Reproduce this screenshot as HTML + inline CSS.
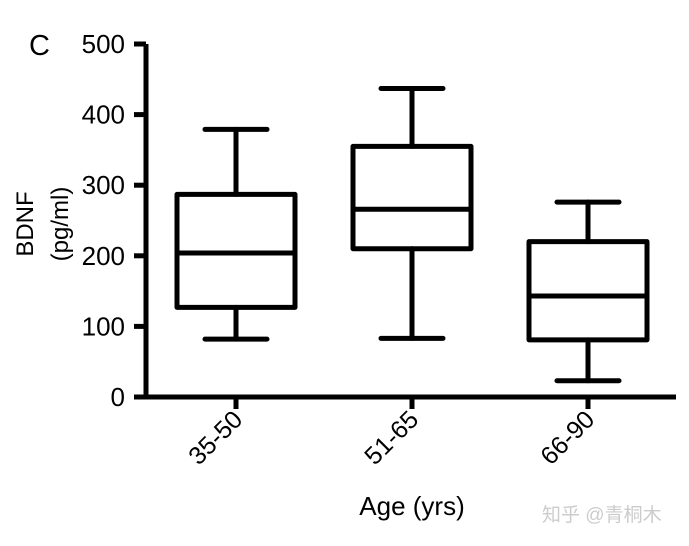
<!DOCTYPE html>
<html><head><meta charset="utf-8"><style>
body{margin:0;background:#fff;}
svg text{font-family:"Liberation Sans","Noto Sans CJK SC",sans-serif;fill:#000;}
</style></head><body>
<svg id="chart" width="689" height="541" viewBox="0 0 689 541" xmlns="http://www.w3.org/2000/svg">
<text x="29" y="55" font-size="29">C</text>
<g id="axes"></g>
<g id="boxes"></g>
<text transform="translate(33,224) rotate(-90)" text-anchor="middle" font-size="24">BDNF</text>
<text transform="translate(68,224) rotate(-90)" text-anchor="middle" font-size="24">(pg/ml)</text>
<text x="412" y="515" text-anchor="middle" font-size="26">Age (yrs)</text>
<text x="542" y="521" font-size="19" style="fill:#ccc">知乎 @青桐木</text>
</svg>
<script>
const categories=["35-50","51-65","66-90"];
const whiskerHigh=[379,437,276];
const q3Values=[287,355,220];
const medians=[204,266,143];
const q1Values=[127,210,81];
const whiskerLow=[82,83,23];
const yTicks=[0,100,200,300,400,500];
const NS="http://www.w3.org/2000/svg";
const y0=397,yScale=(397-44)/500;
const yPos=v=>y0-v*yScale;
const xLeft=146,xRight=676;
const centers=[236,412,588];
const xPos=i=>centers[0]+i*(centers[2]-centers[0])/(categories.length-1);
const halfW=59,capW=31,SW=5;
function mk(tag,attrs,parent){const e=document.createElementNS(NS,tag);for(const k in attrs)e.setAttribute(k,attrs[k]);parent.appendChild(e);return e;}
const ax=document.getElementById('axes'),bx=document.getElementById('boxes');
let l=mk('line',{x1:xLeft,y1:yPos(0)+2,x2:xLeft,y2:yPos(500),stroke:'#000','stroke-width':SW},ax);


l=mk('line',{x1:xLeft-2,y1:y0,x2:xRight,y2:y0,stroke:'#000','stroke-width':SW},ax);


yTicks.forEach(t=>{
 const y=yPos(t);
 const tk=mk('line',{x1:134,y1:y,x2:xLeft,y2:y,stroke:'#000','stroke-width':SW},ax);
 
 
 const tx=mk('text',{x:125,y:y+9,'text-anchor':'end','font-size':'26'},ax);
 tx.textContent=t;
 
 
});
categories.forEach((c,i)=>{
 const x=xPos(i);
 const tk=mk('line',{x1:x,y1:y0,x2:x,y2:y0+12,stroke:'#000','stroke-width':SW},ax);
 
 
 const tx=mk('text',{transform:`translate(${x+8},${y0+24}) rotate(-45)`,'text-anchor':'end','font-size':'25'},ax);
 tx.textContent=c;
 
 
 const g=mk('g',{},bx);
 
 
 const st={stroke:'#000','stroke-width':SW,fill:'none','stroke-linecap':'round'};
 mk('line',Object.assign({x1:x,y1:yPos(whiskerHigh[i]),x2:x,y2:yPos(q3Values[i])},st),g);
 mk('line',Object.assign({x1:x,y1:yPos(q1Values[i]),x2:x,y2:yPos(whiskerLow[i])},st),g);
 mk('line',Object.assign({x1:x-capW,y1:yPos(whiskerHigh[i]),x2:x+capW,y2:yPos(whiskerHigh[i])},st),g);
 mk('line',Object.assign({x1:x-capW,y1:yPos(whiskerLow[i]),x2:x+capW,y2:yPos(whiskerLow[i])},st),g);
 mk('rect',Object.assign({x:x-halfW,y:yPos(q3Values[i]),width:2*halfW,height:yPos(q1Values[i])-yPos(q3Values[i]),'stroke-linejoin':'round'},st),g);
 mk('line',Object.assign({x1:x-halfW,y1:yPos(medians[i]),x2:x+halfW,y2:yPos(medians[i])},st),g);
});
</script>
</body></html>
